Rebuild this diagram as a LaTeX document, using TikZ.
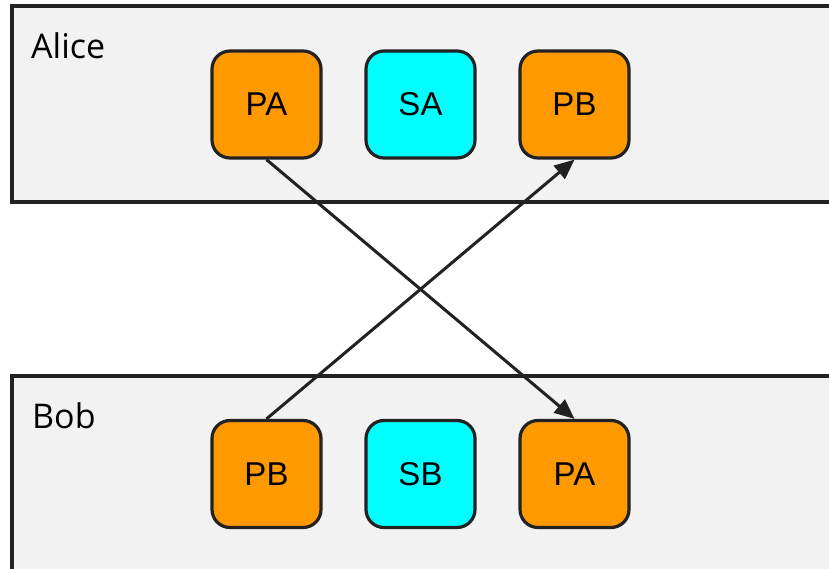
\documentclass[tikz,border=0pt]{standalone}
\usepackage{fontspec}
\setmainfont{Liberation Sans}
\newfontfamily\lanefont{Open Sans}
\usetikzlibrary{arrows.meta}
\definecolor{lanefill}{HTML}{F2F2F2}
\definecolor{edgecol}{HTML}{222222}
\definecolor{orangefill}{HTML}{FF9900}
\definecolor{cyanfill}{HTML}{00FFFF}
\tikzset{
  lane/.style={draw=edgecol, fill=lanefill, line width=3.5pt},
  lanelabel/.style={anchor=base west, inner sep=0pt, font=\lanefont\fontsize{34}{36}\selectfont},
  proc/.style={draw=edgecol, line width=3.2pt, rounded corners=18pt, minimum width=109pt, minimum height=107pt, inner sep=0pt, font=\fontsize{33}{35}\selectfont, fill=orangefill},
  shared/.style={proc, fill=cyanfill},
  link/.style={draw=edgecol, line width=3pt, -{Triangle[length=20pt,width=17pt]}}
}
\begin{document}
\begin{tikzpicture}[x=1pt,y=-1pt]
\useasboundingbox (0,0) rectangle (829,569);
\clip (0,0) rectangle (829,569);
\fill[white] (0,0) rectangle (829,569);
\draw[lane] (12,6) rectangle (845,202);
\draw[lane] (12,376) rectangle (845,590);
\node[lanelabel] (alice) at (31,59) {Alice};
\node[lanelabel] (bob) at (32,428) {Bob};
\node[proc] (pa1) at (266.5,104.5) {PA};
\node[shared] (sa) at (420.5,104.5) {SA};
\node[proc] (pb1) at (574.5,104.5) {PB};
\node[proc] (pb2) at (266.5,474) {PB};
\node[shared] (sb) at (420.5,474) {SB};
\node[proc] (pa2) at (574.5,474) {PA};
\draw[link] (pa1.south) -- (pa2.north);
\draw[link] (pb2.north) -- (pb1.south);
\end{tikzpicture}
\end{document}
